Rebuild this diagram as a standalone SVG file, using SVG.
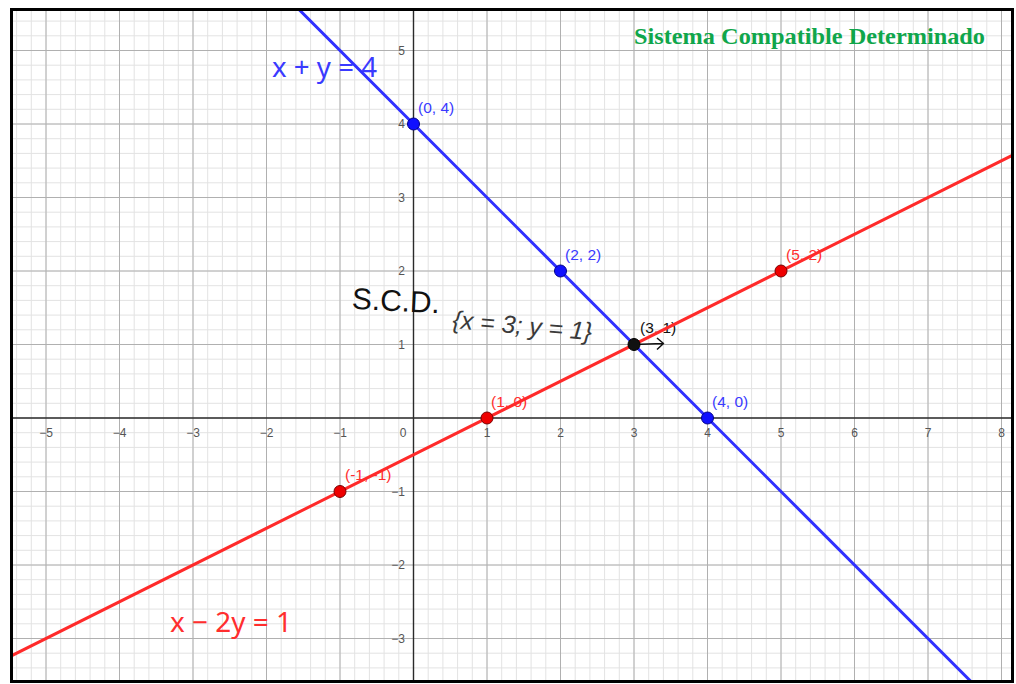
<svg xmlns="http://www.w3.org/2000/svg" width="1016" height="684" viewBox="0 0 1016 684">
  <defs>
    <pattern id="minor" patternUnits="userSpaceOnUse" x="413" y="417.5" width="14.7" height="14.7">
      <path d="M0.5 0V14.7M0 0.5H14.7" stroke="#e2e2e2" stroke-width="1" fill="none"/>
    </pattern>
    <clipPath id="plot"><rect x="12" y="10" width="999" height="671"/></clipPath>
    <style>
      .major{stroke:#b0b0b0;stroke-width:1;fill:none}
      .axis{stroke:#2a2a2a;stroke-width:1.4;fill:none}
      .tick{font-family:"Liberation Sans",Arial,sans-serif;font-size:12px;fill:#555}
      .tx{text-anchor:middle}
      .ty{text-anchor:end}
      .pl{font-family:"Liberation Sans",Arial,sans-serif;font-size:15.5px}
      .blue{fill:#3a3aff}
      .red{fill:#ff2e2e}
      .eq{font-family:"Noto Sans","DejaVu Sans",sans-serif;font-size:27px}
      .line{stroke-width:3;fill:none;stroke-linecap:round}
      .pt{stroke-width:1}
    </style>
  </defs>
  <rect width="1016" height="684" fill="#fff"/>
  <g id="grid" clip-path="url(#plot)">
    <rect x="12" y="10" width="999" height="671" fill="url(#minor)"/>
    <path class="major" d="M46 10V681M119.5 10V681M193 10V681M266.5 10V681M340 10V681M487 10V681M560.5 10V681M634 10V681M707.5 10V681M781 10V681M854.5 10V681M928 10V681M1001.5 10V681
      M12 50.5H1011M12 124H1011M12 197.5H1011M12 271H1011M12 344.5H1011M12 491.5H1011M12 565H1011M12 638.5H1011"/>
    <path class="axis" d="M413.5 10V681M12 418H1011"/>
  </g>
  <g id="ticks">
    <text class="tick tx" x="46" y="437">−5</text>
    <text class="tick tx" x="119.5" y="437">−4</text>
    <text class="tick tx" x="193" y="437">−3</text>
    <text class="tick tx" x="266.5" y="437">−2</text>
    <text class="tick tx" x="340" y="437">−1</text>
    <text class="tick tx" x="403" y="437">0</text>
    <text class="tick tx" x="487" y="437">1</text>
    <text class="tick tx" x="560.5" y="437">2</text>
    <text class="tick tx" x="634" y="437">3</text>
    <text class="tick tx" x="707.5" y="437">4</text>
    <text class="tick tx" x="781" y="437">5</text>
    <text class="tick tx" x="854.5" y="437">6</text>
    <text class="tick tx" x="928" y="437">7</text>
    <text class="tick tx" x="1001.5" y="437">8</text>
    <text class="tick ty" x="405" y="54.5">5</text>
    <text class="tick ty" x="405" y="128">4</text>
    <text class="tick ty" x="405" y="201.5">3</text>
    <text class="tick ty" x="405" y="275">2</text>
    <text class="tick ty" x="405" y="348.5">1</text>
    <text class="tick ty" x="405" y="495.5">−1</text>
    <text class="tick ty" x="405" y="569">−2</text>
    <text class="tick ty" x="405" y="642.5">−3</text>
  </g>
  <g id="point-labels">
    <text class="pl blue" x="418" y="113">(0, 4)</text>
    <text class="pl blue" x="565" y="260">(2, 2)</text>
    <text class="pl blue" x="712" y="407">(4, 0)</text>
    <text class="pl red" x="786" y="260">(5, 2)</text>
    <text class="pl red" x="491" y="407">(1, 0)</text>
    <text class="pl red" x="345" y="480">(-1, -1)</text>
    <text class="pl" x="640" y="333" fill="#111">(3, 1)</text>
  </g>
  <g id="equation-labels">
    <text class="eq blue" x="272" y="77" textLength="105" lengthAdjust="spacingAndGlyphs">x + y = 4</text>
    <text class="eq red" x="170" y="632" textLength="122" lengthAdjust="spacingAndGlyphs">x − 2y = 1</text>
  </g>
  <g id="connectors" clip-path="url(#plot)">
    <path class="line" stroke="#3030ff" d="M297.5 8L971.5 682"/>
    <path class="line" stroke="#ff2a2a" d="M10 656.5L1013 155"/>
  </g>
  <g id="points">
    <g id="p04"><circle class="pt" cx="413.5" cy="124" r="6" fill="#1010ff" stroke="#00008a"/></g>
    <g id="p22"><circle class="pt" cx="560.5" cy="271" r="6" fill="#1010ff" stroke="#00008a"/></g>
    <g id="p40"><circle class="pt" cx="707.5" cy="418" r="6" fill="#1010ff" stroke="#00008a"/></g>
    <g id="p10"><circle class="pt" cx="487" cy="418" r="6" fill="#ee0000" stroke="#7a0000"/></g>
    <g id="p52"><circle class="pt" cx="781" cy="271" r="6" fill="#ee0000" stroke="#7a0000"/></g>
    <g id="pm1"><circle class="pt" cx="340" cy="491.5" r="6" fill="#ee0000" stroke="#7a0000"/></g>
    <g id="p31">
      <path d="M634 344.5L663 343.5M657 338L663.5 343.5L657 349.5" stroke="#111" stroke-width="1.5" fill="none" stroke-linejoin="round"/>
      <circle class="pt" cx="634" cy="344.5" r="6" fill="#111" stroke="#000"/>
    </g>
  </g>
  <g id="annotations">
    <text x="352" y="311" font-family="'Liberation Sans',Arial,sans-serif" font-size="30" fill="#111" textLength="88" lengthAdjust="spacingAndGlyphs" transform="rotate(3 396 300)">S.C.D.</text>
    <text x="452" y="334" font-family="'Liberation Sans',Arial,sans-serif" font-style="italic" font-size="25" fill="#3a3a3a" textLength="140" lengthAdjust="spacingAndGlyphs" transform="rotate(5 520 330)">{x = 3; y = 1}</text>
    <text x="634" y="44" font-family="'Liberation Serif','Times New Roman',serif" font-weight="bold" font-size="23" fill="#0fa64b" textLength="351" lengthAdjust="spacingAndGlyphs">Sistema Compatible Determinado</text>
  </g>
  <rect id="frame" x="11.5" y="9.5" width="1001" height="672" fill="none" stroke="#000" stroke-width="3"/>
</svg>
